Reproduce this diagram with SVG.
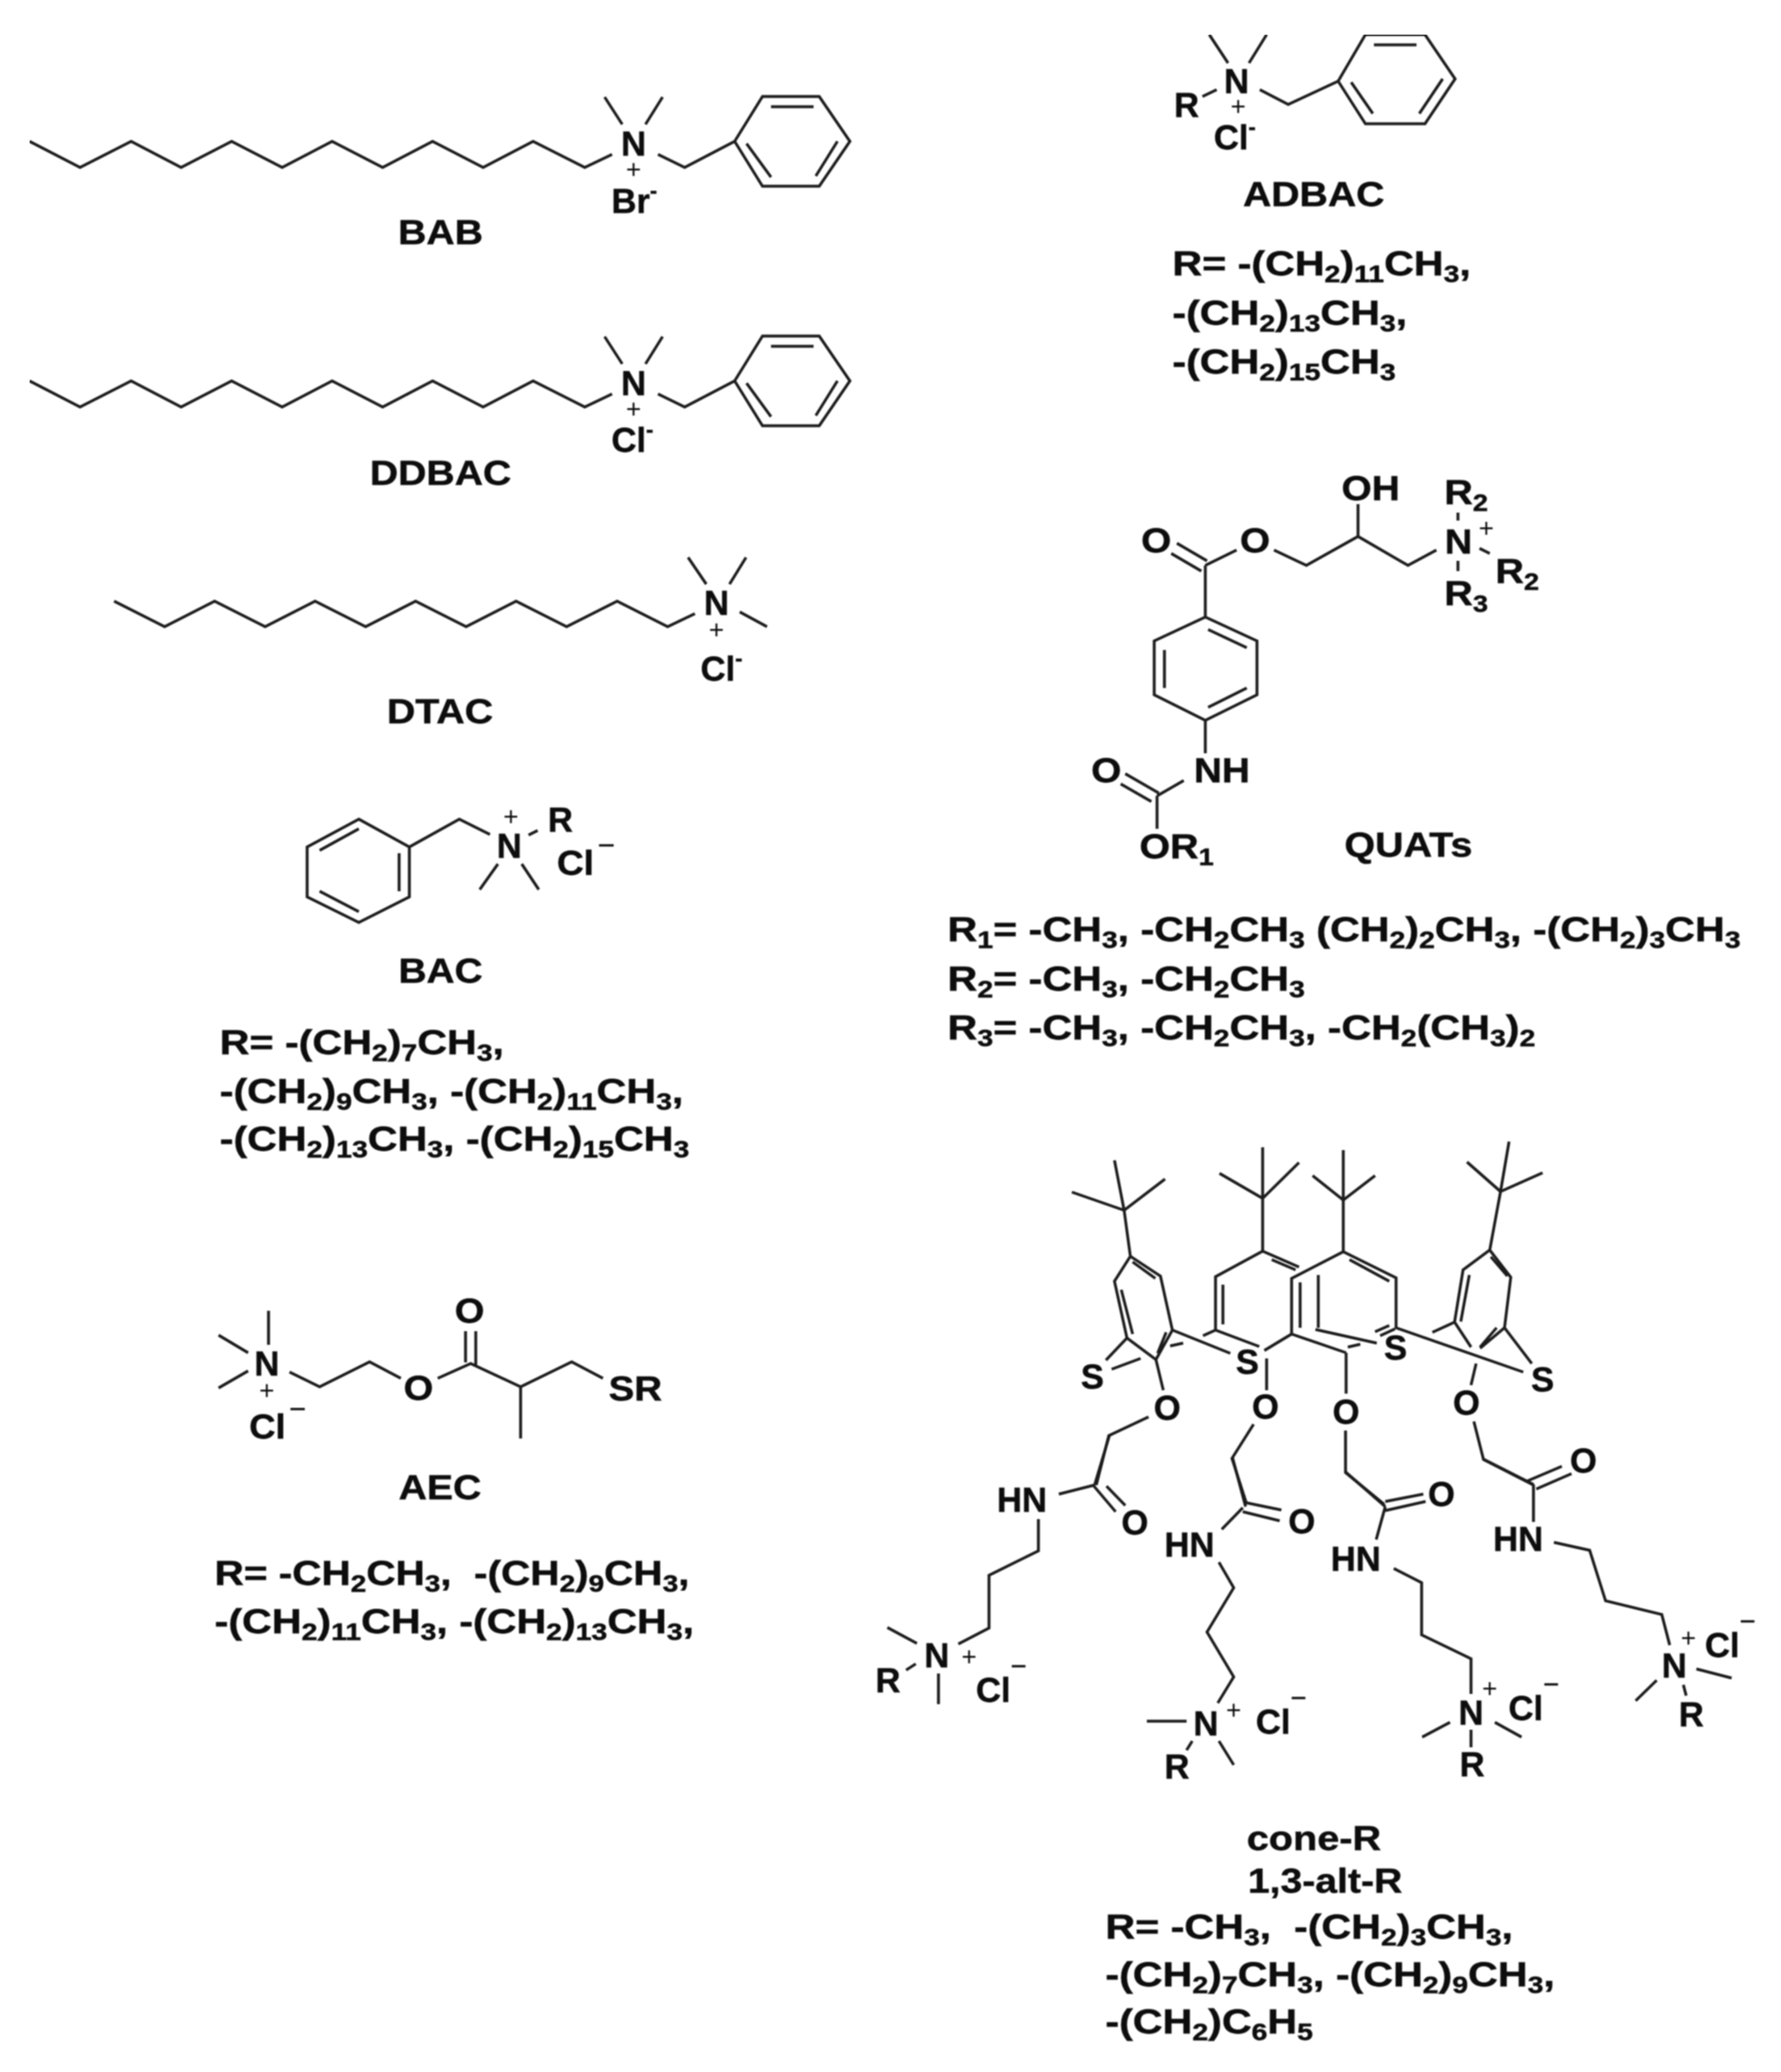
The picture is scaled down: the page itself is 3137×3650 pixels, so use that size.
<svg xmlns="http://www.w3.org/2000/svg" width="3137" height="3650" viewBox="0 0 3137 3650">
<style>
.b{fill:none;stroke:#1a1a1a;stroke-width:5;stroke-linejoin:miter}
.t{font-family:"Liberation Sans",Arial,sans-serif;font-weight:700;font-size:61px;fill:#111;stroke:#111;stroke-width:.8;white-space:pre}
.m{text-anchor:middle}
.s{font-size:42px;baseline-shift:-12px}
.p{font-family:"Liberation Sans",Arial,sans-serif;font-weight:400;font-size:46px;fill:#111;text-anchor:middle}
.q{font-weight:400;font-size:48px;baseline-shift:36px}
.u{font-weight:400;font-size:48px;baseline-shift:47px}
.h{font-size:38px;baseline-shift:26px}
</style>
<defs><filter id="soft" x="0" y="0" width="1" height="1"><feGaussianBlur stdDeviation="1.2"/></filter></defs>
<rect width="3137" height="3650" fill="#fff"/>
<g filter="url(#soft)">

<g id="BAB">
<path class="b" d="M52 249L141 295L231 249L319 295L408 249L497 295L585 249L674 295L762 249L851 295L939 249L1030 295L1078 272M1065 171L1096 219M1167 171L1137 219M1159 272L1206 295L1294 249M1294 249L1343 170H1443L1497 249L1443 328H1343L1294 249M1358 188H1433M1475 249L1437 310M1315 253L1358 312"/>
<text class="t m" x="1116" y="274">N</text><text class="p" x="1116" y="314">+</text>
<text class="t" x="1077" y="375">Br<tspan class="h">-</tspan></text>
<text class="t m" transform="translate(776 430) scale(1.13 1)">BAB</text>
</g>

<g id="DDBAC">
<path class="b" d="M52 671L141 717L231 671L319 717L408 671L497 717L585 671L674 717L762 671L851 717L939 671L1030 717L1078 694M1065 593L1096 641M1167 593L1137 641M1159 694L1206 717L1294 671M1294 671L1343 592H1443L1497 671L1443 750H1343L1294 671M1358 610H1433M1475 671L1437 732M1315 675L1358 734"/>
<text class="t m" x="1116" y="696">N</text><text class="p" x="1116" y="736">+</text>
<text class="t" x="1077" y="796">Cl<tspan class="h">-</tspan></text>
<text class="t m" transform="translate(776 854) scale(1.13 1)">DDBAC</text>
</g>

<g id="DTAC">
<path class="b" d="M201 1059L290 1104L378 1059L467 1104L555 1059L644 1104L732 1059L821 1104L909 1059L998 1104L1087 1059L1176 1104L1224 1081M1212 982L1244 1029M1314 982L1285 1029M1303 1078L1351 1104"/>
<text class="t m" x="1262" y="1083">N</text><text class="p" x="1262" y="1125">+</text>
<text class="t" x="1234" y="1199">Cl<tspan class="h">-</tspan></text>
<text class="t m" transform="translate(775 1274) scale(1.135 1)">DTAC</text>
</g>

<g id="BAC">
<path class="b" d="M632 1443L721 1492V1580L632 1625L541 1580V1492ZM563 1498L632 1460M703 1503V1570M563 1570L632 1606M721 1492L809 1443L863 1470M931 1471L947 1463M877 1522L845 1567M919 1522L949 1567"/>
<text class="t m" x="897" y="1511">N</text><text class="p" x="900" y="1454">+</text>
<text class="t" x="965" y="1465">R</text>
<text class="t" transform="translate(981 1541) scale(1.07 1)">Cl<tspan class="q" dx="6">−</tspan></text>
<text class="t m" transform="translate(776 1731) scale(1.12 1)">BAC</text>
<text class="t" transform="translate(387 1857) scale(1.19 1)">R= -(CH<tspan class="s">2</tspan>)<tspan class="s">7</tspan>CH<tspan class="s">3</tspan>,</text>
<text class="t" transform="translate(387 1943) scale(1.19 1)">-(CH<tspan class="s">2</tspan>)<tspan class="s">9</tspan>CH<tspan class="s">3</tspan>, -(CH<tspan class="s">2</tspan>)<tspan class="s">11</tspan>CH<tspan class="s">3</tspan>,</text>
<text class="t" transform="translate(387 2027) scale(1.19 1)">-(CH<tspan class="s">2</tspan>)<tspan class="s">13</tspan>CH<tspan class="s">3</tspan>, -(CH<tspan class="s">2</tspan>)<tspan class="s">15</tspan>CH<tspan class="s">3</tspan></text>
</g>

<g id="AEC">
<path class="b" d="M473 2309V2369M385 2352L437 2383M385 2445L437 2415M510 2417L563 2443L651 2399L706 2428M771 2428L829 2402L917 2443L1007 2399L1062 2428M820 2345V2400M838 2345V2407M917 2443V2534"/>
<text class="t m" x="470" y="2423">N</text><text class="p" x="470" y="2465">+</text>
<text class="t" transform="translate(439 2534) scale(1.05 1)">Cl<tspan class="q" dx="6">−</tspan></text>
<text class="t m" transform="translate(737 2466) scale(1.1 1)">O</text><text class="t m" transform="translate(827 2330) scale(1.1 1)">O</text>
<text class="t" transform="translate(1072 2467) scale(1.11 1)">SR</text>
<text class="t m" transform="translate(775 2641) scale(1.13 1)">AEC</text>
<text class="t" transform="translate(378 2792) scale(1.17 1)">R= -CH<tspan class="s">2</tspan>CH<tspan class="s">3</tspan>,  -(CH<tspan class="s">2</tspan>)<tspan class="s">9</tspan>CH<tspan class="s">3</tspan>,</text>
<text class="t" transform="translate(378 2877) scale(1.19 1)">-(CH<tspan class="s">2</tspan>)<tspan class="s">11</tspan>CH<tspan class="s">3</tspan>, -(CH<tspan class="s">2</tspan>)<tspan class="s">13</tspan>CH<tspan class="s">3</tspan>,</text>
</g>

<g id="ADBAC">
<path class="b" d="M2130 61L2163 111M2231 61L2200 111M2118 170L2143 158M2219 158L2269 184L2357 143M2357 143L2405 61H2510L2563 139L2510 218H2405L2357 143M2420 79H2495M2541 139L2500 200M2380 145L2418 200"/>
<text class="t m" x="2178" y="164">N</text><text class="p" x="2181" y="203">+</text>
<text class="t" x="2068" y="206">R</text>
<text class="t" x="2138" y="263">Cl<tspan class="h">-</tspan></text>
<text class="t m" transform="translate(2314 363) scale(1.13 1)">ADBAC</text>
<text class="t" transform="translate(2065 485) scale(1.19 1)">R= -(CH<tspan class="s">2</tspan>)<tspan class="s">11</tspan>CH<tspan class="s">3</tspan>,</text>
<text class="t" transform="translate(2065 572) scale(1.19 1)">-(CH<tspan class="s">2</tspan>)<tspan class="s">13</tspan>CH<tspan class="s">3</tspan>,</text>
<text class="t" transform="translate(2065 658) scale(1.19 1)">-(CH<tspan class="s">2</tspan>)<tspan class="s">15</tspan>CH<tspan class="s">3</tspan></text>
</g>

<g id="QUATs">
<path class="b" d="M2568 903V917M2606 966L2624 975M2568 988V1006M2244 969L2301 996L2392 945L2480 996L2530 969M2392 945V888M2123 996L2178 969M2073 957L2126 988M2063 975L2116 1006M2123 996V1087L2214 1129V1224L2123 1269L2033 1224V1129L2123 1087M2128 1109L2196 1141M2051 1145V1212M2128 1246L2196 1212M2123 1269V1327M2085 1375L2038 1402M1982 1363L2041 1397M1974 1381L2028 1412M2038 1402V1460"/>
<text class="t" transform="translate(2363 881) scale(1.12 1)">OH</text>
<text class="t" transform="translate(2544 888) scale(1.14 1)">R<tspan class="s">2</tspan></text>
<text class="t m" transform="translate(2569 975) scale(1.1 1)">N</text><text class="p" x="2618" y="946">+</text>
<text class="t" transform="translate(2634 1027) scale(1.14 1)">R<tspan class="s">2</tspan></text>
<text class="t" transform="translate(2544 1066) scale(1.14 1)">R<tspan class="s">3</tspan></text>
<text class="t" transform="translate(2184 973) scale(1.12 1)">O</text>
<text class="t" transform="translate(2010 973) scale(1.12 1)">O</text>
<text class="t" transform="translate(2103 1378) scale(1.12 1)">NH</text>
<text class="t" transform="translate(1922 1378) scale(1.12 1)">O</text>
<text class="t" transform="translate(2007 1512) scale(1.14 1)">OR<tspan class="s">1</tspan></text>
<text class="t" transform="translate(2368 1509) scale(1.14 1)">QUATs</text>
<text class="t" transform="translate(1669 1658) scale(1.19 1)">R<tspan class="s">1</tspan>= -CH<tspan class="s">3</tspan>, -CH<tspan class="s">2</tspan>CH<tspan class="s">3</tspan> (CH<tspan class="s">2</tspan>)<tspan class="s">2</tspan>CH<tspan class="s">3</tspan>, -(CH<tspan class="s">2</tspan>)<tspan class="s">3</tspan>CH<tspan class="s">3</tspan></text>
<text class="t" transform="translate(1669 1745) scale(1.19 1)">R<tspan class="s">2</tspan>= -CH<tspan class="s">3</tspan>, -CH<tspan class="s">2</tspan>CH<tspan class="s">3</tspan></text>
<text class="t" transform="translate(1669 1831) scale(1.19 1)">R<tspan class="s">3</tspan>= -CH<tspan class="s">3</tspan>, -CH<tspan class="s">2</tspan>CH<tspan class="s">3</tspan>, -CH<tspan class="s">2</tspan>(CH<tspan class="s">3</tspan>)<tspan class="s">2</tspan></text>
</g>

<g id="calixarene">
<path class="b" d="M1963 2044L1980 2132M1888 2100L1980 2132M2052 2077L1980 2132M1980 2132L1991 2213L2044 2248L2065 2343L2036 2395L1985 2357L1963 2257L1991 2213M1995 2223L2035 2252M1975 2272L1995 2350M2054 2347L2039 2384M1985 2357L1948 2396M1958 2412L2009 2393M2036 2395L2049 2449M2023 2496L1953 2529L1931 2616M2065 2343L2167 2384M2061 2371L2084 2366"/>
<path class="b" d="M2224 2021V2111M2148 2067L2224 2111M2288 2048L2224 2111M2224 2111V2204L2141 2249V2343L2218 2372M2224 2204L2288 2232M2240 2219L2282 2237M2154 2263V2333M2119 2353L2141 2343M2231 2393V2449M2208 2509L2170 2569L2195 2647"/>
<path class="b" d="M2366 2026V2114M2312 2071L2366 2114M2422 2071L2366 2114M2366 2114V2205L2459 2251V2339L2683 2417M2366 2205L2275 2252V2350L2371 2383M2377 2219L2447 2257M2290 2259V2339M2322 2246V2339M2317 2342L2425 2366M2275 2350L2227 2379M2422 2346L2447 2335M2431 2353L2457 2341M2371 2383V2455M2374 2373L2396 2368M2370 2520V2594L2438 2650"/>
<path class="b" d="M2658 2011L2643 2099M2584 2047L2643 2099M2717 2066L2643 2099M2643 2099L2624 2202L2661 2250L2650 2339L2607 2375M2624 2202L2577 2237L2562 2329L2591 2373M2626 2214L2655 2248M2588 2246L2573 2328M2636 2339L2607 2373M2650 2339L2698 2402M2562 2329L2523 2347M2600 2402L2591 2440M2596 2504L2613 2571L2701 2616"/>
<path class="b" d="M1954 2529L1928 2616M1928 2616L1865 2632M1926 2617L1965 2663M1949 2618L1982 2652M1829 2676V2732L1742 2775V2868L1688 2896M1563 2867L1615 2895M1596 2942L1613 2931M1653 2948V3002"/>
<path class="b" d="M2171 2568L2194 2654M2189 2656L2152 2694M2194 2647L2257 2660M2189 2663L2254 2679M2147 2752L2173 2797L2126 2875L2173 2954L2145 3000M2020 3032H2090M2100 3067L2090 3083M2147 3067L2173 3109"/>
<path class="b" d="M2370 2593L2440 2654M2440 2645L2507 2632M2440 2661L2511 2645M2440 2654L2424 2712M2455 2763L2504 2788V2880L2591 2922V2984M2554 3034L2505 3060M2633 3034L2680 3060M2591 3047V3078"/>
<path class="b" d="M2614 2571L2701 2615M2690 2609L2751 2583M2706 2623L2768 2596M2701 2615V2681M2737 2717L2800 2731L2828 2820L2927 2844L2941 2898M2988 2940L3050 2956M2918 2960L2881 2996M2965 2968L2970 2987"/>
<text class="t m" x="1924" y="2446">S</text><text class="t m" x="2197" y="2420">S</text><text class="t m" x="2458" y="2395">S</text><text class="t m" x="2717" y="2451">S</text>
<text class="t m" x="2056" y="2501">O</text><text class="t m" x="2229" y="2499">O</text><text class="t m" x="2371" y="2508">O</text><text class="t m" x="2583" y="2492">O</text>
<text class="t m" x="1999" y="2703">O</text><text class="t m" x="2293" y="2701">O</text><text class="t m" x="2539" y="2653">O</text><text class="t m" x="2789" y="2594">O</text>
<text class="t" x="1756" y="2663">HN</text><text class="t" x="2051" y="2742">HN</text><text class="t" x="2344" y="2767">HN</text><text class="t" x="2630" y="2732">HN</text>
<text class="t m" x="1650" y="2937">N</text><text class="p" x="1707" y="2934">+</text><text class="t" x="1542" y="2981">R</text><text class="t" x="1719" y="2998">Cl<tspan class="u">−</tspan></text>
<text class="t m" x="2124" y="3057">N</text><text class="p" x="2173" y="3028">+</text><text class="t" x="2051" y="3133">R</text><text class="t" x="2212" y="3054">Cl<tspan class="u">−</tspan></text>
<text class="t m" x="2591" y="3038">N</text><text class="p" x="2624" y="2990">+</text><text class="t m" x="2593" y="3129">R</text><text class="t" x="2657" y="3030">Cl<tspan class="u">−</tspan></text>
<text class="t m" x="2949" y="2955">N</text><text class="p" x="2974" y="2901">+</text><text class="t m" x="2979" y="3041">R</text><text class="t" x="3003" y="2919">Cl<tspan class="u">−</tspan></text>
<text class="t" transform="translate(2196 3259) scale(1.145 1)">cone-R</text>
<text class="t" transform="translate(2198 3334) scale(1.13 1)">1,3-alt-R</text>
<text class="t" transform="translate(1947 3415) scale(1.19 1)">R= -CH<tspan class="s">3</tspan>,  -(CH<tspan class="s">2</tspan>)<tspan class="s">3</tspan>CH<tspan class="s">3</tspan>,</text>
<text class="t" transform="translate(1947 3499) scale(1.19 1)">-(CH<tspan class="s">2</tspan>)<tspan class="s">7</tspan>CH<tspan class="s">3</tspan>, -(CH<tspan class="s">2</tspan>)<tspan class="s">9</tspan>CH<tspan class="s">3</tspan>,</text>
<text class="t" transform="translate(1947 3582) scale(1.19 1)">-(CH<tspan class="s">2</tspan>)C<tspan class="s">6</tspan>H<tspan class="s">5</tspan></text>
</g>
</g>
</svg>
